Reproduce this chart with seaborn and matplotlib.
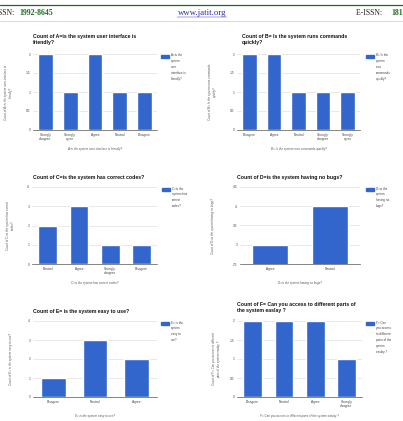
import matplotlib
matplotlib.use("Agg")
import matplotlib.pyplot as plt
import seaborn as sns
from matplotlib.patches import Rectangle
from matplotlib.lines import Line2D

# survey answer counts, read from the scanned page
a_cats = ["Strongly\ndisagree", "Strongly\nagree", "Agree", "Neutral", "Disagree"]
a_vals = [2, 1, 2, 1, 1]
b_cats = ["Disagree", "Agree", "Neutral", "Strongly\ndisagree", "Strongly\nagree"]
b_vals = [2, 2, 1, 1, 1]
c_cats = ["Neutral", "Agree", "Strongly\ndisagree", "Disagree"]
c_vals = [2, 3, 1, 1]
d_cats = ["Agree", "Neutral"]
d_vals = [3, 4]
e_cats = ["Disagree", "Neutral", "Agree"]
e_vals = [1, 3, 2]
f_cats = ["Disagree", "Neutral", "Agree", "Strongly\ndisagree"]
f_vals = [2, 2, 2, 1]

half_ticks = [0, 0.5, 1, 1.5, 2]
half_labels = ["0", "0.5", "1", "1.5", "2"]
int_ticks = [0, 1, 2, 3, 4]
int_labels = ["0", "1", "2", "3", "4"]
d_ticks = [2.5, 3, 3.5, 4, 4.5]
d_labels = ["2.5", "3", "3.5", "4", "4.5"]

sns.set_style("white")
plt.rcParams["font.family"] = ["Liberation Sans", "DejaVu Sans"]

W, H = 403, 421
BLUE = "#3366cc"
GREEN = "#1d6b22"

fig = plt.figure(figsize=(W / 100, H / 100), dpi=100)


def px_rect(x0, y0, x1, y1):
    return [x0 / W, 1 - y1 / H, (x1 - x0) / W, (y1 - y0) / H]


def fx(x):
    return x / W


def fy(y):
    return 1 - y / H


def chart(box, cats, vals, ticks, tlabels, title, title_xy, xlabel, ylabel, ylab_x,
          legend_txt, leg_x):
    x0, y0, x1, y1 = box
    ax = fig.add_axes(px_rect(x0, y0, x1, y1))
    sns.barplot(x=cats, y=vals, color=BLUE, width=0.6, saturation=1, ax=ax, zorder=3)
    ax.set_ylim(ticks[0], ticks[-1])
    ax.set_xlim(-0.5, len(cats) - 0.5)
    ax.set_yticks(ticks)
    ax.set_yticklabels(tlabels)
    ax.yaxis.grid(True, color="#d8d8d8", linewidth=0.4, zorder=0)
    ax.tick_params(axis="both", length=0, labelsize=2.3, colors="#444444", pad=2)
    for s in ["top", "right", "left"]:
        ax.spines[s].set_visible(False)
    ax.spines["bottom"].set_color("#555555")
    ax.spines["bottom"].set_linewidth(0.5)
    ax.set_xlabel(xlabel, fontsize=2.2, style="italic", color="#555555")
    ax.xaxis.set_label_coords(0.5, -(17 / (y1 - y0)))
    ax.set_ylabel(ylabel, fontsize=2.2, style="italic", color="#555555", linespacing=1.2)
    ax.yaxis.set_label_coords((ylab_x - x0) / (x1 - x0), 0.5)
    tx, ty = title_xy
    fig.text(fx(tx), fy(ty), title, fontsize=3.7, fontweight="bold", color="#111111",
             ha="left", va="top", linespacing=1.35)
    fig.add_artist(Rectangle((fx(leg_x), fy(y0 + 4)), 8 / W, 3 / H,
                             transform=fig.transFigure, color=BLUE))
    fig.text(fx(leg_x + 10), fy(y0 - 0.5), legend_txt, fontsize=2.2, color="#444444",
             ha="left", va="top", linespacing=1.65)
    return ax


chart((33, 54, 157, 130), a_cats, a_vals, half_ticks, half_labels,
      "Count of A=is the system user interface is\nfriendly?", (33, 34),
      "A=is the system user interface is friendly?",
      "Count of A=is the system user interface is\nfriendly?", 13,
      "A=is the\nsystem\nuser\ninterface is\nfriendly?", 161)

chart((237, 54, 360, 130), b_cats, b_vals, half_ticks, half_labels,
      "Count of B= Is the system runs commands\nquickly?", (242, 34),
      "B= Is the system runs commands quickly?",
      "Count of B= Is the system runs commands\nquickly?", 217,
      "B= Is the\nsystem\nruns\ncommands\nquickly?", 366)

chart((32, 187, 157, 264), c_cats, c_vals, int_ticks, int_labels,
      "Count of C=is the system has correct codes?", (33, 175),
      "C=is the system has correct codes?",
      "Count of C=is the system has correct\ncodes?", 15,
      "C=is the\nsystem has\ncorrect\ncodes?", 162)

chart((240, 187, 360, 264), d_cats, d_vals, d_ticks, d_labels,
      "Count of D=is the system having no bugs?", (237, 175),
      "D=is the system having no bugs?",
      "Count of D=is the system having no bugs?", 215,
      "D=is the\nsystem\nhaving no\nbugs?", 366)

chart((33, 321, 157, 397), e_cats, e_vals, int_ticks, int_labels,
      "Count of E= is the system easy to use?", (33, 309),
      "E= is the system easy to use?",
      "Count of E= is the system easy to use?", 13,
      "E= is the\nsystem\neasy to\nuse?", 161)

chart((237, 321, 362, 397), f_cats, f_vals, half_ticks, half_labels,
      "Count of F= Can you access to different parts of\nthe system easlay ?", (237, 302),
      "F= Can you access to different parts of the system easlay ?",
      "Count of F= Can you access to different\nparts of the system easlay ?", 221,
      "F= Can\nyou access\nto different\nparts of the\nsystem\neaslay ?", 366)

# page header of the scan
fig.add_artist(Line2D([0, 1], [fy(4.5), fy(4.5)], transform=fig.transFigure,
                      color=GREEN, linewidth=0.9))
fig.add_artist(Line2D([0, 1], [fy(21), fy(21)], transform=fig.transFigure,
                      color="#bbbbbb", linewidth=0.4))
serif = ["Liberation Serif", "DejaVu Serif"]
fig.text(fx(-1.5), fy(15), "SSN: ", fontsize=5.6, family=serif, color="#222222", va="baseline")
fig.text(fx(19), fy(15), "1992-8645", fontsize=5.6, family=serif, color=GREEN,
         fontweight="bold", va="baseline")
fig.text(fx(202), fy(15), "www.jatit.org", fontsize=6.3, family=serif, color="#2a2ab0",
         ha="center", va="baseline")
fig.add_artist(Line2D([fx(177), fx(227)], [fy(16.5), fy(16.5)], transform=fig.transFigure,
                      color="#2a2ab0", linewidth=0.3))
fig.text(fx(356), fy(15), "E-ISSN: ", fontsize=5.6, family=serif, color="#222222", va="baseline")
fig.text(fx(391), fy(15), "181", fontsize=5.6, family=serif, color=GREEN,
         fontweight="bold", va="baseline")

fig.savefig("out.png", dpi=100)
